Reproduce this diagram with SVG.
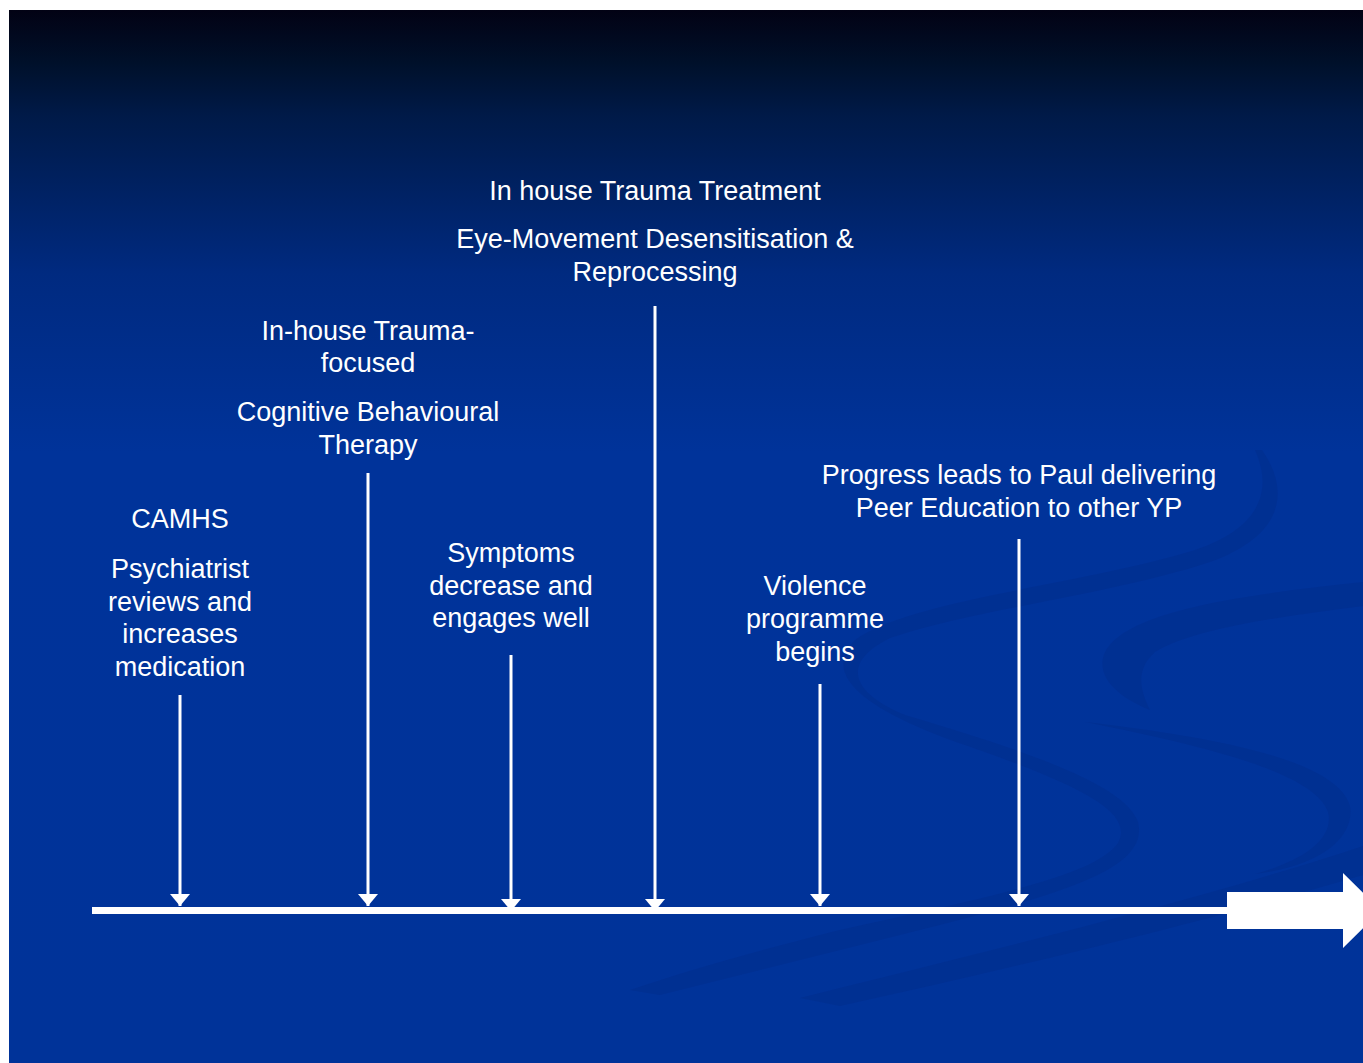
<svg xmlns="http://www.w3.org/2000/svg" width="1363" height="1063" viewBox="0 0 1363 1063">
  <defs>
    <linearGradient id="bg" x1="0" y1="10" x2="0" y2="1063" gradientUnits="userSpaceOnUse">
      <stop offset="0" stop-color="#020214"/>
      <stop offset="0.05" stop-color="#00102a"/>
      <stop offset="0.1" stop-color="#001a48"/>
      <stop offset="0.25" stop-color="#002a80"/>
      <stop offset="0.42" stop-color="#00339a"/>
      <stop offset="1" stop-color="#003399"/>
    </linearGradient>
    <marker id="ah" viewBox="0 0 12 20" refX="12" refY="10" markerWidth="12" markerHeight="20" markerUnits="userSpaceOnUse" orient="auto">
      <path d="M0,0 L12,10 L0,20 z" fill="#ffffff"/>
    </marker>
    <style>
      .lbl { font-family: "Liberation Sans", Arial, sans-serif; font-size: 27px; fill: #ffffff; text-anchor: middle; }
      .conn { stroke: #ffffff; stroke-width: 3; fill: none; marker-end: url(#ah); }
      .swirl { fill: #002c8a; opacity: 0.45; }
    </style>
  </defs>

  <rect x="0" y="0" width="1363" height="1063" fill="#ffffff"/>
  <rect x="9" y="10" width="1354" height="1053" fill="url(#bg)"/>

  <g id="background-swirls">
    <path class="swirl" d="M1255,450 C1275,495 1255,530 1195,550 C1080,585 910,600 855,640 C825,670 850,705 965,745 C1080,785 1135,812 1118,843 C1095,875 1000,895 840,930 C760,950 690,970 630,990 L660,995 C740,975 820,955 900,935 C1060,895 1150,870 1138,822 C1125,785 1030,752 905,715 C845,690 845,660 890,638 C970,610 1110,595 1210,562 C1285,535 1290,490 1262,450 z"/>
    <path class="swirl" d="M1363,582 C1240,595 1115,612 1103,658 C1098,682 1125,700 1150,710 C1140,690 1135,670 1155,652 C1195,628 1285,616 1363,606 z"/>
    <path class="swirl" d="M1085,722 C1200,745 1315,772 1328,812 C1335,840 1300,862 1255,874 C1320,866 1355,838 1350,806 C1338,762 1225,738 1085,722 z"/>
    <path class="swirl" d="M1363,846 C1200,900 1000,948 800,998 L840,1006 C1040,962 1225,916 1363,875 z"/>
  </g>

  <g id="connectors">
    <rect x="92" y="907" width="1136" height="7" fill="#ffffff"/>
    <polygon points="1227,892 1343,892 1343,873 1381,910.5 1343,948 1343,929 1227,929" fill="#ffffff"/>
    <line class="conn" x1="180" y1="695" x2="180" y2="906"/>
    <line class="conn" x1="368" y1="473" x2="368" y2="906"/>
    <line class="conn" x1="511" y1="655" x2="511" y2="911"/>
    <line class="conn" x1="655" y1="306" x2="655" y2="911"/>
    <line class="conn" x1="820" y1="684" x2="820" y2="906"/>
    <line class="conn" x1="1019" y1="539" x2="1019" y2="906"/>
  </g>

  <g id="node-camhs">
    <text class="lbl" x="180" y="528">CAMHS</text>
    <text class="lbl" x="180" y="578">Psychiatrist</text>
    <text class="lbl" x="180" y="611">reviews and</text>
    <text class="lbl" x="180" y="643">increases</text>
    <text class="lbl" x="180" y="676">medication</text>
  </g>

  <g id="node-cbt">
    <text class="lbl" x="368" y="340">In-house Trauma-</text>
    <text class="lbl" x="368" y="372">focused</text>
    <text class="lbl" x="368" y="421">Cognitive Behavioural</text>
    <text class="lbl" x="368" y="454">Therapy</text>
  </g>

  <g id="node-symptoms">
    <text class="lbl" x="511" y="562">Symptoms</text>
    <text class="lbl" x="511" y="595">decrease and</text>
    <text class="lbl" x="511" y="627">engages well</text>
  </g>

  <g id="node-emdr">
    <text class="lbl" x="655" y="200">In house Trauma Treatment</text>
    <text class="lbl" x="655" y="248">Eye-Movement Desensitisation &amp;</text>
    <text class="lbl" x="655" y="281">Reprocessing</text>
  </g>

  <g id="node-violence">
    <text class="lbl" x="815" y="595">Violence</text>
    <text class="lbl" x="815" y="628">programme</text>
    <text class="lbl" x="815" y="661">begins</text>
  </g>

  <g id="node-peer">
    <text class="lbl" x="1019" y="484">Progress leads to Paul delivering</text>
    <text class="lbl" x="1019" y="517">Peer Education to other YP</text>
  </g>
</svg>
